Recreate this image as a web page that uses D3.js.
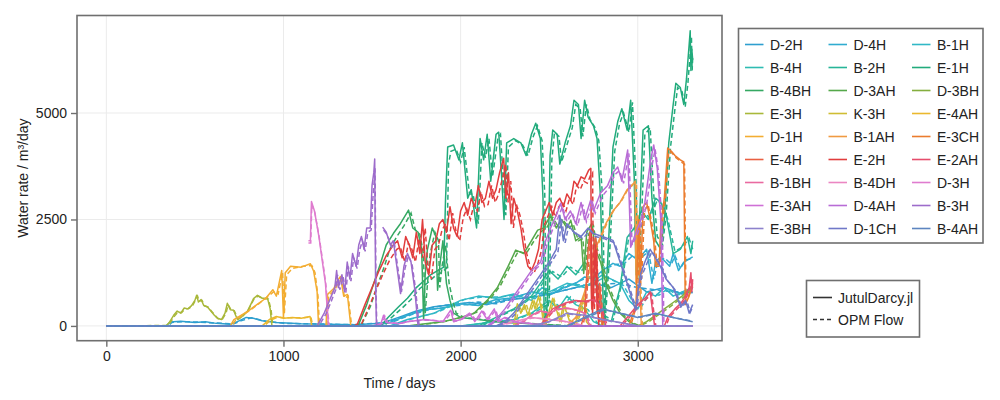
<!DOCTYPE html>
<html>
<head>
<meta charset="utf-8">
<script src="https://cdn.jsdelivr.net/npm/d3@7"></script>
<style>
  body { margin: 0; background: #fff; }
  text { font-family: "Liberation Sans", Arial, sans-serif; fill: #222; }
</style>
</head>
<body>
<div id="container"><svg></svg></div>
<script>
// well names, legend order (row by row, 3 columns)
const wellNames = ["D-2H","D-4H","B-1H","B-4H","B-2H","E-1H","B-4BH","D-3AH","D-3BH",
  "E-3H","K-3H","E-4AH","D-1H","B-1AH","E-3CH","E-4H","E-2H","E-2AH",
  "B-1BH","B-4DH","D-3H","E-3AH","D-4AH","B-3H","E-3BH","D-1CH","B-4AH"];
const wellColors = ["#2e9fcf","#30acd0","#31b8c6","#2ebcb2","#27b598","#22ab7c","#35a862","#55a84a","#84ae3e",
  "#a9b83a","#cfbd33","#ebb82e","#f3ad32","#f09a42","#eb7c2e","#e96042","#e13d3d","#e64d6c",
  "#e96aa0","#eb86c2","#df7ccf","#cf70d6","#b86cd6","#9d6ccb","#8d82cc","#7078c8","#5d85c0"];
const xTicks = [0, 1000, 2000, 3000];
const yTicks = [0, 2500, 5000];
const seriesLabels = ["JutulDarcy.jl", "OPM Flow"];

// [day, water rate] -- J = JutulDarcy.jl, O = OPM Flow
const jD2H = [[0,0],[340,10],[360,90],[420,110],[500,80],[560,100],[620,60],[700,40],[740,100],[790,200],[830,180],[880,120],[960,80],[1100,50],[1400,30],[1550,60],[1650,200],[1750,350],[1850,450],[1950,500],[2050,550],[2150,500],[2250,600],[2350,650],[2450,700],[2550,800],[2650,900],[2750,1000],[2850,900],[2950,1100],[3050,800],[3150,900],[3250,750],[3310,800]];
const oD2H = [[0,0],[350,0],[370,80],[430,100],[520,90],[600,70],[720,50],[760,120],[820,190],[900,110],[1000,60],[1400,30],[1580,80],[1700,250],[1800,400],[1900,480],[2000,520],[2100,560],[2200,520],[2300,640],[2400,680],[2500,760],[2600,850],[2700,950],[2800,980],[2900,1000],[3000,900],[3100,850],[3200,800],[3310,780]];
const jD4H = [[0,0],[1500,0],[1600,80],[1700,250],[1800,380],[1900,420],[2000,520],[2100,480],[2200,620],[2300,660],[2400,800],[2500,720],[2560,860],[2650,1000],[2700,1150],[2750,1100],[2800,1300],[2860,1470],[2900,1400],[2950,1700],[3000,1550],[3050,1800],[3080,1000],[3100,1500],[3130,1620],[3180,1400],[3200,1700],[3230,1300],[3260,1500],[3310,1620]];
const oD4H = [[0,0],[1520,0],[1620,100],[1720,260],[1820,380],[1920,440],[2020,500],[2120,500],[2220,600],[2320,700],[2420,780],[2520,760],[2580,880],[2670,1050],[2720,1150],[2770,1150],[2820,1350],[2880,1450],[2920,1450],[2970,1650],[3020,1600],[3060,1750],[3090,1100],[3110,1450],[3150,1600],[3190,1450],[3210,1650],[3240,1350],[3270,1550],[3310,1580]];
const jB1H = [[0,0],[1600,0],[1700,150],[1850,300],[2000,600],[2100,700],[2200,650],[2300,750],[2400,600],[2460,900],[2500,800],[2600,1000],[2700,900],[2800,1200],[2900,1000],[2950,600],[3000,400],[3050,800],[3100,700],[3150,900],[3200,700],[3250,800],[3310,900]];
const oB1H = [[0,0],[1620,0],[1720,160],[1870,320],[2020,620],[2120,680],[2220,680],[2320,720],[2420,640],[2480,880],[2520,820],[2620,980],[2720,950],[2820,1150],[2920,950],[2970,580],[3020,450],[3070,780],[3120,720],[3170,880],[3220,720],[3270,780],[3310,880]];
const jB4H = [[0,0],[2000,0],[2100,50],[2200,100],[2300,150],[2400,300],[2500,600],[2550,400],[2600,700],[2650,500],[2700,400],[2750,100],[2800,0],[3310,0]];
const oB4H = [[0,0],[2020,0],[2120,60],[2320,160],[2420,320],[2520,580],[2570,420],[2620,680],[2670,480],[2720,380],[2770,80],[2820,0],[3310,0]];
const jB2H = [[0,0],[2100,0],[2200,200],[2300,400],[2400,700],[2450,1000],[2500,1300],[2550,1100],[2600,1400],[2650,1200],[2700,1500],[2750,1300],[2800,200],[2850,100],[2900,900],[2940,2080],[2980,2300],[3020,2700],[3060,2500],[3100,3000],[3130,2900],[3160,2600],[3200,1700],[3240,1800],[3280,2100],[3300,1700],[3310,2000]];
const oB2H = [[0,0],[2120,0],[2220,220],[2320,420],[2420,720],[2470,1050],[2520,1280],[2570,1150],[2620,1380],[2670,1250],[2720,1450],[2760,1250],[2810,250],[2860,120],[2910,1000],[2950,2100],[2990,2350],[3030,2650],[3070,2550],[3110,2950],[3140,2850],[3170,2500],[3210,1750],[3250,1850],[3290,2050],[3310,1800]];
const jE1H = [[0,0],[1550,0],[1590,200],[1650,450],[1700,650],[1750,900],[1790,1050],[1830,1200],[1870,1300],[1905,1380],[1915,3000],[1927,4200],[1960,4250],[1990,3900],[2010,4300],[2040,3000],[2060,3200],[2090,2300],[2110,4400],[2130,3900],[2150,4500],[2170,3400],[2200,4500],[2215,4550],[2230,3600],[2245,2500],[2260,4300],[2300,4400],[2340,4300],[2370,4000],[2400,4500],[2424,4760],[2450,4400],[2465,3000],[2472,0],[2490,500],[2505,4000],[2520,4600],[2545,4500],[2560,3800],[2590,4300],[2620,4700],[2640,5300],[2665,5200],[2680,4400],[2700,5300],[2720,4900],[2750,4700],[2770,4400],[2790,3000],[2808,0],[2830,1500],[2860,4200],[2887,4800],[2910,5100],[2940,4600],[2960,5300],[2980,3500],[2990,1200],[3010,2500],[3030,4600],[3060,4700],[3080,3000],[3101,2000],[3130,1800],[3150,2500],[3175,4300],[3200,5200],[3215,5700],[3240,5600],[3260,5200],[3275,5800],[3290,6600],[3296,6930],[3300,6000],[3305,6500],[3310,6250]];
const oE1H = [[0,0],[1570,0],[1610,200],[1670,420],[1720,620],[1770,880],[1810,1000],[1850,1150],[1890,1250],[1920,1350],[1932,3800],[1945,4100],[1975,4150],[2000,3850],[2020,4200],[2050,3100],[2070,3100],[2100,2400],[2120,4300],[2140,3950],[2160,4400],[2180,3500],[2210,4400],[2225,4500],[2240,3500],[2255,2600],[2270,4200],[2310,4350],[2350,4250],[2380,4000],[2410,4450],[2434,4700],[2460,4350],[2475,3100],[2482,200],[2500,600],[2515,3900],[2530,4550],[2555,4450],[2570,3850],[2600,4250],[2630,4650],[2650,5200],[2675,5100],[2690,4450],[2710,5200],[2730,4850],[2760,4650],[2780,4350],[2800,3100],[2816,100],[2840,1600],[2870,4100],[2897,4750],[2920,5000],[2950,4550],[2970,5250],[2990,3400],[3000,1100],[3020,2400],[3040,4500],[3070,4650],[3090,3100],[3110,2100],[3140,1900],[3160,2600],[3185,4200],[3210,5100],[3225,5600],[3250,5500],[3268,5150],[3283,5700],[3298,6500],[3303,6800],[3307,6000],[3310,6300]];
const jB4BH = [[0,0],[1400,0],[1424,30],[1470,500],[1510,1000],[1548,1470],[1580,1900],[1621,2175],[1660,2400],[1706,2720],[1730,2300],[1760,2200],[1780,1800],[1791,150],[1800,1200],[1812,1780],[1840,2300],[1860,2100],[1870,840],[1885,1500],[1900,2000],[1920,1000],[1940,600],[1960,300],[2000,200],[2100,150],[2200,100],[2400,50],[2600,0],[3310,0]];
const oB4BH = [[0,0],[1420,0],[1440,30],[1490,450],[1530,950],[1570,1400],[1600,1800],[1640,2100],[1680,2350],[1720,2650],[1745,2250],[1770,2150],[1790,1700],[1800,300],[1815,1100],[1828,1700],[1855,2200],[1875,2000],[1882,900],[1895,1400],[1915,1900],[1935,1000],[1955,600],[1975,300],[2020,200],[2120,150],[2220,100],[2420,50],[2620,0],[3310,0]];
const jD3AH = [[0,0],[1700,0],[1800,50],[1900,100],[2000,200],[2074,290],[2150,600],[2209,910],[2266,1380],[2311,1780],[2356,1700],[2400,2000],[2435,2250],[2470,2300],[2508,2600],[2540,2300],[2570,2500],[2600,2300],[2622,2480],[2650,2000],[2680,2100],[2695,1230],[2712,2200],[2740,2400],[2760,1800],[2790,1500],[2820,1000],[2860,600],[2900,300],[2950,100],[3000,0],[3310,0]];
const oD3AH = [[0,0],[1720,0],[1820,50],[1920,110],[2020,220],[2090,320],[2170,650],[2225,950],[2280,1400],[2325,1750],[2370,1700],[2415,2000],[2450,2200],[2485,2300],[2520,2550],[2555,2300],[2585,2450],[2615,2300],[2635,2400],[2665,2000],[2690,2050],[2705,1300],[2722,2150],[2750,2350],[2772,1800],[2800,1500],[2830,1000],[2870,600],[2910,300],[2960,100],[3010,0],[3310,0]];
const jD3BH = [[0,0],[3000,0],[3050,100],[3100,250],[3150,400],[3200,550],[3250,700],[3310,950]];
const oD3BH = [[0,0],[3010,0],[3060,90],[3110,240],[3160,380],[3210,540],[3260,680],[3310,900]];
const jE3H = [[0,0],[340,10],[355,80],[380,250],[400,350],[420,300],[440,420],[460,400],[480,470],[500,600],[510,720],[520,560],[535,620],[550,480],[570,450],[590,350],[610,250],[627,180],[650,150],[670,300],[683,530],[700,380],[718,370],[740,150],[760,200],[797,350],[815,500],[831,640],[853,720],[880,650],[910,650],[925,400],[935,0],[3310,0]];
const oE3H = [[0,0],[345,10],[360,70],[385,230],[405,330],[425,310],[445,400],[465,410],[485,460],[505,620],[515,700],[525,580],[540,600],[555,470],[575,440],[595,340],[615,240],[632,170],[655,160],[675,290],[688,500],[705,370],[722,360],[745,160],[765,210],[800,360],[820,520],[836,650],[858,700],[885,640],[915,630],[930,380],[940,0],[3310,0]];
const jK3H = [[0,0],[2300,0],[2320,520],[2340,300],[2360,500],[2380,250],[2406,600],[2420,400],[2440,700],[2460,300],[2470,0],[2490,200],[2520,650],[2540,400],[2560,100],[2580,500],[2600,300],[2620,50],[2640,0],[2680,400],[2695,680],[2710,100],[2730,0],[2795,0],[2800,400],[2806,0],[3310,0]];
const oK3H = [[0,0],[2310,0],[2330,480],[2350,320],[2370,520],[2390,260],[2415,580],[2430,420],[2450,650],[2468,280],[2478,0],[2500,220],[2528,620],[2548,380],[2568,120],[2588,480],[2608,280],[2628,40],[2648,0],[2688,380],[2703,650],[2718,80],[2738,0],[3310,0]];
const jE4AH = [[0,0],[880,0],[920,150],[960,220],[1000,180],[1050,200],[1100,180],[1150,220],[1160,0],[3310,0]];
const oE4AH = [[0,0],[890,0],[930,140],[970,210],[1010,190],[1060,190],[1110,190],[1155,210],[1165,0],[3310,0]];
const jD1H = [[0,0],[700,0],[720,150],[760,250],[800,350],[850,500],[900,650],[940,850],[960,700],[990,1300],[1000,200],[1010,1250],[1040,1400],[1100,1380],[1152,1460],[1170,1290],[1190,800],[1198,0],[1240,0],[1249,740],[1284,880],[1303,1050],[1322,1160],[1340,700],[1361,740],[1367,500],[1380,0],[3310,0]];
const oD1H = [[0,0],[710,0],[730,140],[770,260],[810,360],[860,520],[910,680],[950,820],[970,750],[995,1250],[1005,300],[1018,1200],[1050,1350],[1110,1400],[1160,1420],[1178,1250],[1195,700],[1203,0],[1245,0],[1255,700],[1290,850],[1308,1000],[1328,1100],[1345,650],[1365,700],[1372,450],[1385,0],[3310,0]];
const jB1AH = [[0,0],[2600,0],[2650,200],[2700,800],[2730,1400],[2750,1700],[2780,2000],[2820,2400],[2860,2700],[2900,2900],[2940,3200],[2970,3300],[2985,3400],[2990,1000],[3000,2600],[3010,1200],[3020,0],[3310,0]];
const oB1AH = [[0,0],[2610,0],[2660,220],[2710,850],[2740,1450],[2760,1750],[2790,2050],[2830,2450],[2870,2750],[2910,2950],[2950,3250],[2978,3350],[2993,3300],[2998,1100],[3008,2500],[3016,1100],[3026,0],[3310,0]];
const jE3CH = [[0,0],[2950,0],[2990,500],[3005,2500],[3015,1000],[3030,2800],[3050,2900],[3070,2500],[3090,2000],[3100,1400],[3120,1400],[3130,2400],[3150,3000],[3169,4180],[3190,4100],[3210,4000],[3240,3900],[3260,3850],[3268,500],[3290,700],[3310,1000]];
const oE3CH = [[0,0],[2960,0],[2998,550],[3012,2400],[3022,1100],[3038,2700],[3058,2850],[3078,2450],[3098,1950],[3108,1450],[3126,1450],[3138,2350],[3158,3100],[3175,4100],[3196,4050],[3216,3950],[3245,3850],[3264,3800],[3272,600],[3292,750],[3310,950]];
const jE4H = [[0,0],[2680,0],[2700,300],[2720,1800],[2730,2200],[2740,400],[2750,1900],[2763,2100],[2770,300],[2785,1000],[2800,0],[3310,0]];
const oE4H = [[0,0],[2690,0],[2708,350],[2726,1700],[2736,2100],[2746,450],[2756,1800],[2768,2000],[2776,350],[2790,950],[2806,0],[3310,0]];
const jE2H = [[0,0],[1400,0],[1418,50],[1460,500],[1500,900],[1540,1300],[1580,1650],[1620,1900],[1644,2000],[1670,1600],[1690,2100],[1710,1900],[1730,1600],[1750,2200],[1770,1700],[1785,2500],[1800,1500],[1820,1200],[1840,1900],[1860,2000],[1880,2400],[1900,2500],[1920,2200],[1940,2800],[1960,2300],[1980,2100],[2000,2700],[2020,2900],[2040,2600],[2060,3000],[2080,2800],[2100,3300],[2120,2900],[2140,3000],[2160,3400],[2180,3000],[2200,3200],[2220,3600],[2243,3940],[2255,3000],[2270,3600],[2285,2400],[2300,3000],[2320,2700],[2340,2300],[2356,1850],[2380,1400],[2400,1300],[2420,1500],[2440,1800],[2460,2500],[2480,2700],[2500,2900],[2520,2600],[2540,2900],[2560,3000],[2580,2800],[2600,3100],[2622,2950],[2640,3400],[2660,3300],[2680,3500],[2700,3450],[2723,3660],[2735,3700],[2740,600],[2745,300],[2760,1900],[2770,700],[2780,0],[3310,0]];
const oE2H = [[0,0],[1420,0],[1440,40],[1480,420],[1520,820],[1560,1200],[1600,1550],[1640,1800],[1660,1850],[1685,1500],[1705,1950],[1725,1800],[1745,1500],[1765,2050],[1785,1600],[1800,2300],[1815,1400],[1835,1100],[1855,1800],[1875,1900],[1895,2250],[1915,2400],[1935,2000],[1955,2650],[1975,2200],[1995,2000],[2015,2550],[2035,2750],[2055,2500],[2075,2850],[2095,2700],[2115,3150],[2135,2800],[2155,2850],[2175,3300],[2195,2900],[2215,3100],[2235,3450],[2255,3800],[2268,2900],[2283,3400],[2298,2300],[2315,2850],[2335,2600],[2355,2200],[2370,1750],[2395,1350],[2415,1250],[2435,1450],[2455,1750],[2475,2400],[2495,2600],[2515,2800],[2535,2550],[2555,2800],[2575,2900],[2595,2700],[2615,3000],[2635,2850],[2655,3300],[2675,3200],[2695,3400],[2715,3350],[2735,3550],[2745,3600],[2750,700],[2755,400],[2768,1800],[2778,650],[2788,0],[3310,0]];
const jE2AH = [[0,0],[2450,0],[2490,250],[2520,400],[2560,480],[2600,550],[2650,600],[2700,580],[2753,620],[2780,500],[2800,300],[2820,0],[2900,0],[2960,300],[3000,500],[3040,650],[3056,720],[3070,800],[3085,300],[3095,0],[3150,0],[3170,210],[3210,400],[3243,530],[3270,700],[3290,900],[3300,1250],[3305,800],[3310,1100]];
const oE2AH = [[0,0],[2460,0],[2500,230],[2530,380],[2570,460],[2610,540],[2660,580],[2710,560],[2760,600],[2788,480],[2808,280],[2828,0],[2910,0],[2970,280],[3010,480],[3050,640],[3066,700],[3078,760],[3092,280],[3102,0],[3160,0],[3178,200],[3218,380],[3250,510],[3276,680],[3294,880],[3302,1150],[3310,900]];
const jB1BH = [[0,0],[2300,0],[2350,100],[2400,250],[2450,350],[2500,300],[2550,400],[2600,420],[2650,380],[2700,300],[2730,0],[3310,0]];
const oB1BH = [[0,0],[2310,0],[2360,110],[2410,260],[2460,340],[2510,320],[2560,390],[2610,410],[2660,360],[2710,280],[2738,0],[3310,0]];
const jB4DH = [[0,0],[2200,0],[2300,100],[2400,200],[2500,150],[2600,100],[2700,0],[3310,0]];
const oB4DH = [[0,0],[2210,0],[2310,90],[2410,190],[2510,160],[2610,90],[2710,0],[3310,0]];
const jD3H = [[1141,2000],[1152,2000],[1158,2920],[1175,2700],[1200,2100],[1220,1500],[1237,1000],[1247,400],[1254,0],[3310,0]];
const oD3H = [[1141,1950],[1154,1950],[1160,2850],[1178,2650],[1203,2050],[1224,1450],[1240,950],[1250,350],[1258,0],[3310,0]];
const jE3AH = [[0,0],[1500,0],[1550,50],[1565,250],[1580,80],[1650,50],[1700,100],[1800,150],[1900,100],[1944,370],[1960,100],[2000,150],[2050,300],[2080,100],[2120,350],[2150,150],[2190,400],[2210,100],[2250,200],[2300,100],[2400,50],[2500,0],[3310,0]];
const oE3AH = [[0,0],[1510,0],[1560,60],[1572,230],[1590,80],[1660,60],[1710,110],[1810,140],[1910,110],[1952,340],[1968,110],[2010,160],[2060,280],[2090,110],[2130,330],[2160,160],[2198,380],[2218,110],[2260,190],[2310,100],[2410,50],[2510,0],[3310,0]];
const jD4AH = [[0,0],[2150,0],[2200,150],[2250,400],[2300,700],[2350,1000],[2400,1300],[2452,1500],[2480,2000],[2508,2300],[2540,2600],[2565,2880],[2590,2500],[2620,2700],[2650,2400],[2680,2900],[2700,2500],[2734,2950],[2750,2700],[2790,3120],[2830,3300],[2860,3600],[2887,3730],[2910,3400],[2943,4130],[2960,1850],[2990,2200],[3017,2480],[3040,2900],[3073,3900],[3090,4250],[3110,3700],[3130,2480],[3141,0],[3310,0]];
const oD4AH = [[0,0],[2160,0],[2210,140],[2260,380],[2310,680],[2360,980],[2410,1280],[2462,1480],[2490,1950],[2518,2250],[2550,2550],[2575,2800],[2600,2450],[2630,2650],[2660,2350],[2690,2850],[2710,2450],[2744,2900],[2760,2650],[2800,3050],[2840,3250],[2870,3550],[2897,3650],[2920,3350],[2950,4050],[2968,1900],[2998,2150],[3025,2450],[3050,2850],[3082,3800],[3098,4150],[3118,3600],[3138,2400],[3148,0],[3310,0]];
const jB3H = [[0,0],[1190,0],[1230,300],[1260,600],[1290,900],[1300,1300],[1310,900],[1330,1200],[1345,800],[1360,1500],[1375,1100],[1390,1700],[1410,1400],[1425,1900],[1440,2100],[1455,1800],[1470,2300],[1490,2300],[1500,3300],[1510,3600],[1515,3920],[1520,1000],[1525,0],[1540,null],[1560,2320],[1580,2200],[1604,1900],[1620,2000],[1640,1400],[1661,760],[1680,1400],[1700,1700],[1720,1500],[1740,900],[1760,0],[3310,0]];
const oB3H = [[0,0],[1200,0],[1240,280],[1270,580],[1295,850],[1305,1200],[1318,850],[1337,1150],[1352,780],[1366,1400],[1381,1050],[1396,1600],[1416,1350],[1431,1800],[1446,2000],[1461,1750],[1476,2200],[1495,2250],[1505,3000],[1512,3400],[1517,3700],[1522,900],[1527,0],[1540,null],[1565,2250],[1585,2150],[1610,1850],[1626,1950],[1646,1350],[1666,800],[1686,1350],[1706,1650],[1726,1450],[1746,850],[1766,0],[3310,0]];
const jE3BH = [[0,0],[2400,0],[2500,100],[2600,300],[2700,250],[2800,150],[2900,80],[3000,0],[3310,0]];
const oE3BH = [[0,0],[2410,0],[2510,110],[2610,280],[2710,240],[2810,140],[2910,70],[3010,0],[3310,0]];
const jD1CH = [[0,0],[2200,0],[2250,100],[2300,300],[2350,600],[2400,900],[2450,1200],[2500,1500],[2540,1800],[2560,2600],[2580,2000],[2600,2400],[2640,2200],[2680,2100],[2720,2300],[2750,2170],[2800,2100],[2860,2010],[2900,1500],[2940,1000],[2970,600],[2988,370],[3000,800],[3017,1230],[3040,1500],[3070,1800],[3100,1600],[3130,1380],[3160,1100],[3200,900],[3243,440],[3270,600],[3290,300],[3310,500]];
const oD1CH = [[0,0],[2210,0],[2260,90],[2310,280],[2360,580],[2410,880],[2460,1180],[2510,1480],[2550,1750],[2570,2500],[2590,1950],[2610,2350],[2650,2150],[2690,2050],[2730,2250],[2760,2100],[2810,2050],[2870,1950],[2910,1450],[2950,950],[2978,580],[2995,400],[3008,850],[3025,1200],[3050,1450],[3080,1750],[3110,1550],[3140,1350],[3170,1050],[3210,850],[3250,450],[3278,580],[3296,320],[3310,450]];
const jB4AH = [[0,0],[2600,0],[2700,200],[2800,400],[2900,300],[3000,200],[3100,300],[3200,200],[3310,100]];
const oB4AH = [[0,0],[2610,0],[2710,190],[2810,380],[2910,290],[3010,210],[3110,280],[3210,190],[3310,110]];

const jutulData = [jD2H,jD4H,jB1H,jB4H,jB2H,jE1H,jB4BH,jD3AH,jD3BH,jE3H,jK3H,jE4AH,jD1H,jB1AH,jE3CH,jE4H,jE2H,jE2AH,jB1BH,jB4DH,jD3H,jE3AH,jD4AH,jB3H,jE3BH,jD1CH,jB4AH];
const opmData = [oD2H,oD4H,oB1H,oB4H,oB2H,oE1H,oB4BH,oD3AH,oD3BH,oE3H,oK3H,oE4AH,oD1H,oB1AH,oE3CH,oE4H,oE2H,oE2AH,oB1BH,oB4DH,oD3H,oE3AH,oD4AH,oB3H,oE3BH,oD1CH,oB4AH];

const width = 1000, height = 400;
const frame = {left: 77, right: 722, top: 15.5, bottom: 340.7};
const spineColor = '#6f6f6f';

function draw_main() {
    let svg = d3.select('#container').select('svg')
        .attr('width', width)
        .attr('height', height);

    svg.append('rect').attr('width', width).attr('height', height).attr('fill', '#fff');

    let x = d3.scaleLinear().domain([-165.5, 3475.5]).range([frame.left, frame.right]);
    let y = d3.scaleLinear().domain([-347, 7290]).range([frame.bottom, frame.top]);

    // grid
    svg.append('g').selectAll('line').data(xTicks).enter().append('line')
        .attr('x1', d => x(d)).attr('x2', d => x(d))
        .attr('y1', frame.top).attr('y2', frame.bottom)
        .attr('stroke', '#ebebeb').attr('stroke-width', 1);
    svg.append('g').selectAll('line').data(yTicks).enter().append('line')
        .attr('x1', frame.left).attr('x2', frame.right)
        .attr('y1', d => y(d)).attr('y2', d => y(d))
        .attr('stroke', '#ebebeb').attr('stroke-width', 1);

    // lines
    svg.append('clipPath').attr('id', 'clip').append('rect')
        .attr('x', frame.left).attr('y', frame.top)
        .attr('width', frame.right - frame.left).attr('height', frame.bottom - frame.top);
    let line = d3.line()
        .defined(d => d[1] !== null)
        .x(d => x(d[0]))
        .y(d => y(d[1]));
    let plot = svg.append('g').attr('clip-path', 'url(#clip)');
    wellNames.forEach((name, i) => {
        plot.append('path').datum(jutulData[i])
            .attr('d', line)
            .attr('fill', 'none')
            .attr('stroke', wellColors[i])
            .attr('stroke-width', 1.5)
            .attr('stroke-linejoin', 'round');
        plot.append('path').datum(opmData[i])
            .attr('d', line)
            .attr('fill', 'none')
            .attr('stroke', wellColors[i])
            .attr('stroke-width', 1.5)
            .attr('stroke-dasharray', '5,3');
    });

    // spines
    svg.append('rect')
        .attr('x', frame.left).attr('y', frame.top)
        .attr('width', frame.right - frame.left).attr('height', frame.bottom - frame.top)
        .attr('fill', 'none').attr('stroke', spineColor).attr('stroke-width', 1.6);

    // x axis
    let axis_x = d3.axisBottom(x).tickValues(xTicks).tickSize(6).tickPadding(4).tickFormat(d => d);
    let gx = svg.append('g')
        .attr('transform', `translate(0, ${frame.bottom})`)
        .call(axis_x);
    gx.select('.domain').remove();
    gx.selectAll('line').attr('stroke', spineColor).attr('stroke-width', 1.4);
    gx.selectAll('text').attr('font-size', 14).attr('font-family', '"Liberation Sans", Arial, sans-serif').attr('fill', '#222');

    // y axis
    let axis_y = d3.axisLeft(y).tickValues(yTicks).tickSize(6).tickPadding(4).tickFormat(d => d);
    let gy = svg.append('g')
        .attr('transform', `translate(${frame.left}, 0)`)
        .call(axis_y);
    gy.select('.domain').remove();
    gy.selectAll('line').attr('stroke', spineColor).attr('stroke-width', 1.4);
    gy.selectAll('text').attr('font-size', 14).attr('font-family', '"Liberation Sans", Arial, sans-serif').attr('fill', '#222');

    // axis labels
    svg.append('text')
        .attr('x', (frame.left + frame.right) / 2).attr('y', 388)
        .attr('text-anchor', 'middle').attr('font-size', 14)
        .text('Time / days');
    svg.append('text')
        .attr('transform', `translate(28, ${(frame.top + frame.bottom) / 2}) rotate(-90)`)
        .attr('text-anchor', 'middle').attr('font-size', 14)
        .text('Water rate / m³/day');

    // well legend
    let leg = svg.append('g');
    leg.append('rect')
        .attr('x', 738.5).attr('y', 28.5).attr('width', 244.5).attr('height', 214.5)
        .attr('fill', '#fff').attr('stroke', spineColor).attr('stroke-width', 1.6);
    let colX = [745, 828.5, 912];
    wellNames.forEach((name, i) => {
        let cx = colX[i % 3];
        let cy = 44.5 + 23 * Math.floor(i / 3);
        leg.append('line')
            .attr('x1', cx).attr('x2', cx + 18.5).attr('y1', cy).attr('y2', cy)
            .attr('stroke', wellColors[i]).attr('stroke-width', 1.6);
        leg.append('text')
            .attr('x', cx + 25).attr('y', cy + 5)
            .attr('font-size', 14)
            .text(name);
    });

    // simulator legend
    let leg2 = svg.append('g');
    leg2.append('rect')
        .attr('x', 806.5).attr('y', 280.5).attr('width', 113).attr('height', 56.5)
        .attr('fill', '#fff').attr('stroke', spineColor).attr('stroke-width', 1.6);
    seriesLabels.forEach((label, i) => {
        let cy = 297.5 + 22 * i;
        leg2.append('line')
            .attr('x1', 813).attr('x2', 832).attr('y1', cy).attr('y2', cy)
            .attr('stroke', '#333').attr('stroke-width', 1.6)
            .attr('stroke-dasharray', i == 1 ? '4,3' : null);
        leg2.append('text')
            .attr('x', 838).attr('y', cy + 5)
            .attr('font-size', 14)
            .text(label);
    });
}

draw_main();
</script>
</body>
</html>
